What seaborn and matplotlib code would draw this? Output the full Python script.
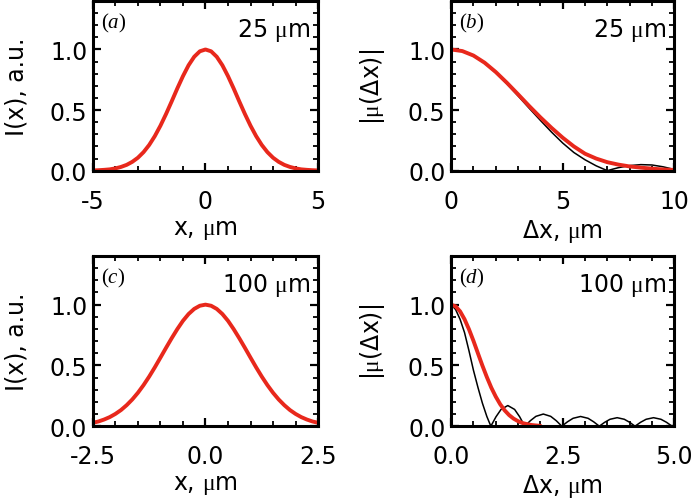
import matplotlib
matplotlib.use("Agg")
import numpy as np
import pandas as pd
import seaborn as sns
import matplotlib.pyplot as plt
from matplotlib.ticker import MultipleLocator, FormatStrFormatter

# ---------------- data ----------------
# (a) intensity profile, 25 um
xa = [-5.0, -4.75, -4.5, -4.25, -4.0, -3.75, -3.5, -3.25, -3.0, -2.75, -2.5, -2.25, -2.0, -1.75,
      -1.5, -1.25, -1.0, -0.75, -0.5, -0.25, 0.0, 0.25, 0.5, 0.75, 1.0, 1.25, 1.5, 1.75, 2.0,
      2.25, 2.5, 2.75, 3.0, 3.25, 3.5, 3.75, 4.0, 4.25, 4.5, 4.75, 5.0]
ia = [0.002, 0.004, 0.007, 0.011, 0.019, 0.031, 0.048, 0.073, 0.107, 0.153, 0.212, 0.285, 0.371,
      0.468, 0.572, 0.679, 0.780, 0.870, 0.940, 0.985, 1.000, 0.985, 0.940, 0.870, 0.780, 0.679,
      0.572, 0.468, 0.371, 0.285, 0.212, 0.153, 0.107, 0.073, 0.048, 0.031, 0.019, 0.011, 0.007,
      0.004, 0.002]

# (b) coherence, 25 um
dxb = [0.0, 0.5, 1.0, 1.5, 2.0, 2.5, 3.0, 3.5, 4.0, 4.5, 5.0, 5.5, 6.0, 6.5, 7.0, 7.5, 8.0,
       8.5, 9.0, 9.5, 10.0]
mu_fit_b = [1.000, 0.987, 0.950, 0.891, 0.814, 0.725, 0.630, 0.533, 0.440, 0.353, 0.272, 0.200,
            0.140, 0.100, 0.070, 0.050, 0.035, 0.025, 0.017, 0.010, 0.006]
dxb_k = [0.0, 0.5, 1.0, 1.5, 2.0, 2.5, 3.0, 3.5, 4.0, 4.5, 5.0, 5.5, 6.0, 6.5, 7.0, 7.25, 7.5,
         8.0, 8.5, 9.0, 9.5, 10.0]
mu_b = [1.000, 0.987, 0.948, 0.887, 0.808, 0.716, 0.617, 0.515, 0.415, 0.318, 0.228, 0.150,
        0.090, 0.040, 0.000, 0.013, 0.025, 0.042, 0.050, 0.047, 0.032, 0.010]

# (c) intensity profile, 100 um
xc = [-2.5, -2.375, -2.25, -2.125, -2.0, -1.875, -1.75, -1.625, -1.5, -1.375, -1.25, -1.125,
      -1.0, -0.875, -0.75, -0.625, -0.5, -0.375, -0.25, -0.125, 0.0, 0.125, 0.25, 0.375, 0.5,
      0.625, 0.75, 0.875, 1.0, 1.125, 1.25, 1.375, 1.5, 1.625, 1.75, 1.875, 2.0, 2.125, 2.25,
      2.375, 2.5]
ic = [0.028, 0.039, 0.055, 0.075, 0.101, 0.133, 0.173, 0.220, 0.275, 0.338, 0.408, 0.484,
      0.564, 0.645, 0.724, 0.799, 0.867, 0.923, 0.965, 0.991, 1.000, 0.991, 0.965, 0.923, 0.867,
      0.799, 0.724, 0.645, 0.564, 0.484, 0.408, 0.338, 0.275, 0.220, 0.173, 0.133, 0.101, 0.075,
      0.055, 0.039, 0.028]

# (d) coherence, 100 um
dxd = [0.0, 0.1, 0.2, 0.3, 0.4, 0.5, 0.6, 0.7, 0.8, 0.9, 1.0, 1.1, 1.2, 1.3, 1.4, 1.5, 1.6,
       1.7, 1.8, 1.9, 2.0]
mu_fit_d = [1.000, 0.986, 0.945, 0.880, 0.797, 0.702, 0.600, 0.499, 0.404, 0.317, 0.243, 0.180,
            0.130, 0.091, 0.062, 0.041, 0.026, 0.017, 0.010, 0.006, 0.003]
dxd_k = [0.0, 0.1, 0.2, 0.3, 0.4, 0.5, 0.6, 0.7, 0.8, 0.89,
         1.004, 1.118, 1.27, 1.422, 1.536, 1.65,
         1.774, 1.899, 2.065, 2.231, 2.356, 2.48,
         2.606, 2.732, 2.90, 3.068, 3.194, 3.32,
         3.44, 3.56, 3.72, 3.88, 4.00, 4.12,
         4.244, 4.369, 4.535, 4.701, 4.826, 4.95, 5.0]
mu_d = [1.000, 0.960, 0.880, 0.770, 0.620, 0.460, 0.320, 0.190, 0.080, 0.000,
        0.077, 0.138, 0.170, 0.138, 0.077, 0.000,
        0.045, 0.081, 0.100, 0.081, 0.045, 0.000,
        0.036, 0.065, 0.080, 0.065, 0.036, 0.000,
        0.032, 0.057, 0.070, 0.057, 0.032, 0.000,
        0.032, 0.057, 0.070, 0.057, 0.032, 0.000, 0.012]

panel_tags = ["(a)", "(b)", "(c)", "(d)"]
size_tags = ["25", "25", "100", "100"]

RED = "#e8281c"
FS = 17

# ---------------- style ----------------
sns.set_style("ticks")
plt.rcParams["font.family"] = ["DejaVu Sans"]
plt.rcParams["mathtext.fontset"] = "custom"
plt.rcParams["mathtext.rm"] = "Liberation Serif"
plt.rcParams["mathtext.it"] = "Liberation Serif:italic"
plt.rcParams["mathtext.bf"] = "Liberation Serif:bold"
plt.rcParams["axes.unicode_minus"] = False
plt.rcParams["text.color"] = "black"
plt.rcParams["axes.labelcolor"] = "black"

fig = plt.figure(figsize=(6.93, 5.02), dpi=100)
pos = {
    "a": [0.134, 0.658, 0.325, 0.338],
    "b": [0.651, 0.658, 0.322, 0.338],
    "c": [0.134, 0.149, 0.325, 0.339],
    "d": [0.651, 0.149, 0.322, 0.339],
}
axes = {k: fig.add_axes(v) for k, v in pos.items()}

df_a = pd.DataFrame({"x": xa, "I": ia})
df_c = pd.DataFrame({"x": xc, "I": ic})
df_bk = pd.DataFrame({"dx": dxb_k, "mu": mu_b})
df_bf = pd.DataFrame({"dx": dxb, "mu": mu_fit_b})
df_dk = pd.DataFrame({"dx": dxd_k, "mu": mu_d})
df_df = pd.DataFrame({"dx": dxd, "mu": mu_fit_d})

sns.lineplot(data=df_a, x="x", y="I", ax=axes["a"], color=RED, lw=2.8, estimator=None)
sns.lineplot(data=df_c, x="x", y="I", ax=axes["c"], color=RED, lw=2.8, estimator=None)
sns.lineplot(data=df_bk, x="dx", y="mu", ax=axes["b"], color="black", lw=1.1, estimator=None)
sns.lineplot(data=df_bf, x="dx", y="mu", ax=axes["b"], color=RED, lw=2.8, estimator=None)
sns.lineplot(data=df_dk, x="dx", y="mu", ax=axes["d"], color="black", lw=1.1, estimator=None)
sns.lineplot(data=df_df, x="dx", y="mu", ax=axes["d"], color=RED, lw=2.8, estimator=None)

MU = r"$\mathrm{\mu}$"
limits = {"a": (-5, 5), "b": (0, 10), "c": (-2.5, 2.5), "d": (0, 5)}
xmaj = {"a": 5, "b": 5, "c": 2.5, "d": 2.5}
xmin = {"a": 1, "b": 1, "c": 0.5, "d": 0.5}
ylabels = {"a": "I(x), a.u.", "b": "|" + MU + "(Δx)|", "c": "I(x), a.u.", "d": "|" + MU + "(Δx)|"}
xlabels = {"a": "x, " + MU + "m", "b": "Δx, " + MU + "m", "c": "x, " + MU + "m", "d": "Δx, " + MU + "m"}

for i, k in enumerate(["a", "b", "c", "d"]):
    ax = axes[k]
    ax.set_xlim(*limits[k])
    ax.set_ylim(0, 1.4)
    ax.xaxis.set_major_locator(MultipleLocator(xmaj[k]))
    ax.xaxis.set_minor_locator(MultipleLocator(xmin[k]))
    ax.yaxis.set_major_locator(MultipleLocator(0.5))
    ax.yaxis.set_minor_locator(MultipleLocator(0.1))
    if k in ("c", "d"):
        ax.xaxis.set_major_formatter(FormatStrFormatter("%.1f"))
    ax.yaxis.set_major_formatter(FormatStrFormatter("%.1f"))
    for s in ax.spines.values():
        s.set_linewidth(2.2)
        s.set_color("black")
        s.set_visible(True)
    ax.tick_params(which="both", direction="in", top=True, right=True, labelsize=FS,
                   color="black", labelcolor="black")
    ax.tick_params(which="major", length=6, width=1.6)
    ax.tick_params(which="minor", length=3.8, width=1.3)
    ax.tick_params(axis="x", which="major", pad=13)
    ax.tick_params(axis="y", which="major", pad=4)
    ax.set_xlabel(xlabels[k], fontsize=FS, labelpad=3, color="black")
    ax.set_ylabel(ylabels[k], fontsize=FS, labelpad=15, color="black")
    ax.text(0.035, 0.875, "$" + panel_tags[i] + "$", transform=ax.transAxes,
            fontsize=15, ha="left", va="center", color="black")
    ax.text(0.965, 0.835, size_tags[i] + " " + MU + "m", transform=ax.transAxes,
            fontsize=FS, ha="right", va="center", color="black")

fig.savefig("out.png", dpi=100)
